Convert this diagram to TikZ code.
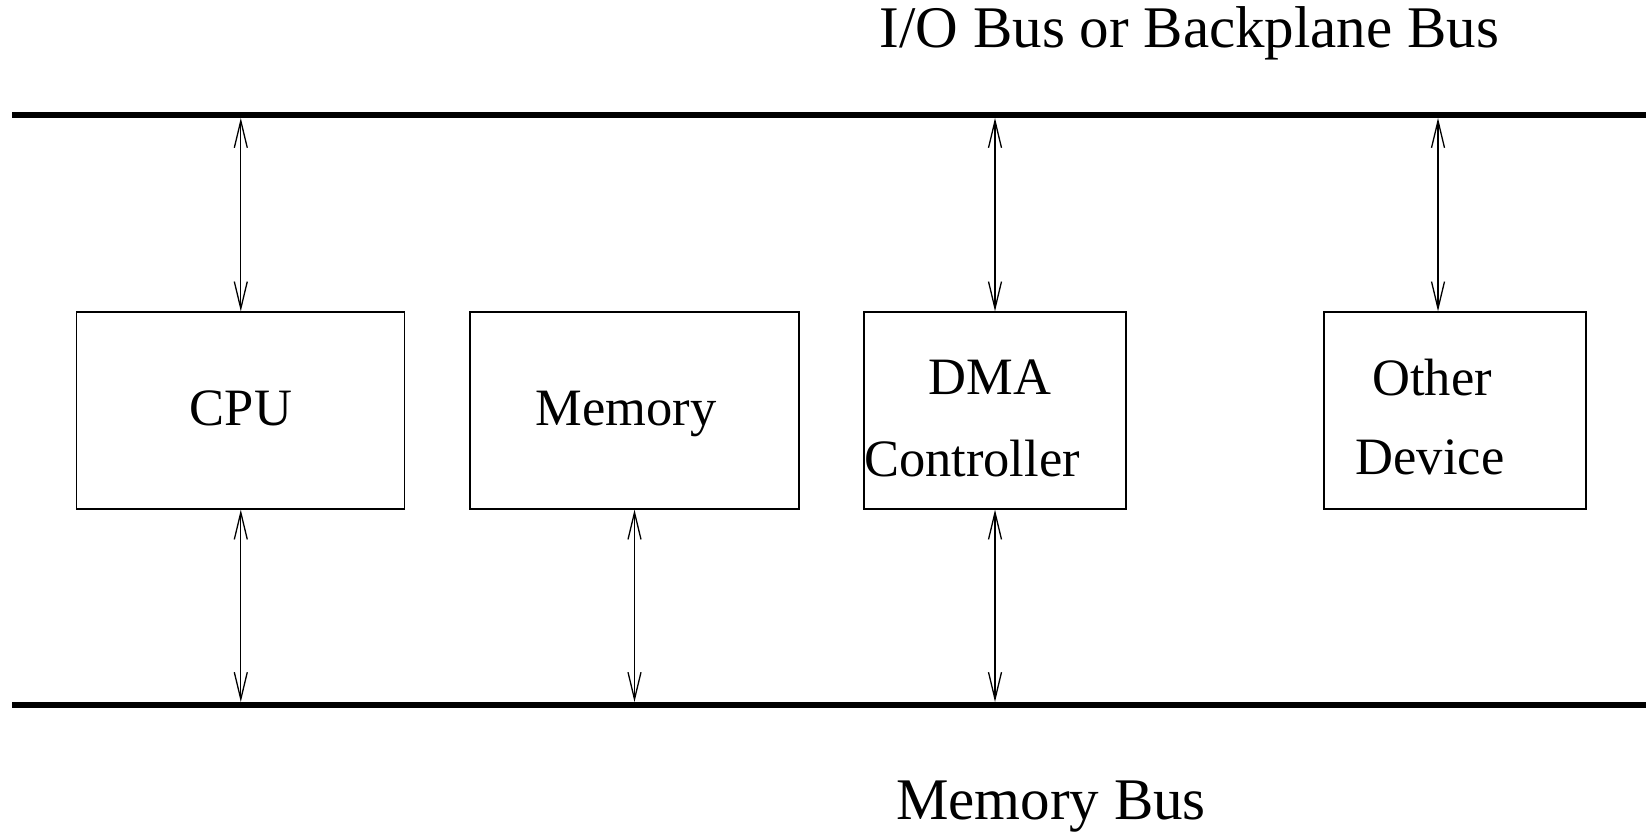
\documentclass[tikz,border=0pt]{standalone}
\usepackage{fontspec}
\setmainfont{Liberation Serif}
\usetikzlibrary{arrows.meta}
\tikzset{
  bus/.style={line width=6pt},
  unit/.style={draw,minimum height=197pt,inner sep=0pt},
  lbl/.style={anchor=base,inner sep=0pt,font=\fontsize{52.5}{62}\selectfont},
  buslbl/.style={anchor=base,inner sep=0pt,font=\fontsize{59}{70}\selectfont},
  >={Straight Barb[length=27pt,width=13pt]}
}
\begin{document}
\begin{tikzpicture}[x=1pt,y=-1pt,line width=1.3pt]
\useasboundingbox (0,0) rectangle (1646,833);
% the two buses
\coordinate (iol) at (12,115);
\coordinate (ior) at (1646,115);
\coordinate (mbl) at (12,705);
\coordinate (mbr) at (1646,705);
\coordinate (iob) at (0,118);
\coordinate (mbt) at (0,702);
\draw[bus] (iol) -- (ior);
\draw[bus] (mbl) -- (mbr);
\node[buslbl] (iotxt) at (1189.5,47.5) {I/O Bus or Backplane Bus};
\node[buslbl] (mbtxt) at (1051,819) {Memory Bus};
% boxes
\node[unit,minimum width=328pt] (cpu) at (240.8,410.5) {};
\node[unit,minimum width=329pt] (mem) at (634.5,410.5) {};
\node[unit,minimum width=262pt] (dma) at (995,410.5) {};
\node[unit,minimum width=262pt] (oth) at (1455,410.5) {};
\node[lbl] (cputxt) at (241,425) {CPU};
\node[lbl] (memtxt) at (626,425) {Memory};
\node[lbl] (dmatxt) at (990,394) {DMA};
\node[lbl] (ctltxt) at (972,476.5) {Controller};
\node[lbl] (othtxt) at (1432,395) {Other};
\node[lbl] (devtxt) at (1430,474) {Device};
% links
\draw[<->] (cpu.north) -- (cpu.north |- iob);
\draw[<->] (cpu.south) -- (cpu.south |- mbt);
\draw[<->] (mem.south) -- (mem.south |- mbt);
\draw[<->] (dma.north) -- (dma.north |- iob);
\draw[<->] (dma.south) -- (dma.south |- mbt);
\coordinate (othtop) at ([xshift=-17pt]oth.north);
\draw[<->] (othtop) -- (othtop |- iob);
\end{tikzpicture}
\end{document}
